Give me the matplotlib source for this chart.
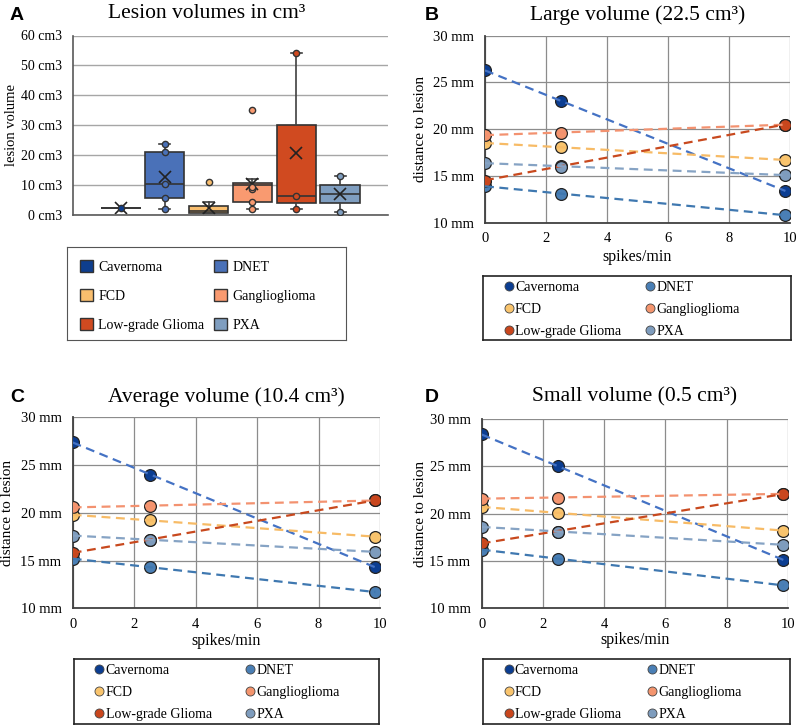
import matplotlib

matplotlib.use("Agg")
import matplotlib.pyplot as plt
import numpy as np
from matplotlib.lines import Line2D
from matplotlib.patches import Patch

# ---- data -------------------------------------------------------------
categories = ["Cavernoma", "DNET", "FCD", "Ganglioglioma", "Low-grade Glioma", "PXA"]

# panel A: box statistics (cm3)
box_q1 = [2.2, 5.8, 0.6, 4.3, 4.1, 4.0]
box_med = [2.2, 10.5, 1.4, 10.0, 6.3, 7.1]
box_q3 = [2.2, 21.2, 3.1, 10.8, 30.0, 9.9]
box_lo = [2.2, 2.1, 0.6, 2.1, 2.1, 1.0]
box_hi = [2.2, 23.7, 4.2, 11.9, 54.0, 12.9]
box_mean = [2.2, 12.6, 2.2, 10.3, 20.8, 7.1]
box_outliers = [[], [], [10.9], [35.2], [], []]
box_inner = [[2.2], [2.1, 5.8, 10.5, 21.2, 23.7], [], [2.1, 4.3, 8.7, 9.5],
             [2.1, 6.3, 54.0], [1.0, 12.9]]

# panels B-D: distance to lesion (mm) at three spike rates
spike_rates = [0.0, 2.5, 9.85]
large_volume = {
    "Cavernoma": [26.3, 23.0, 13.4],
    "DNET": [13.9, 13.1, 10.8],
    "FCD": [18.5, 18.1, 16.7],
    "Ganglioglioma": [19.4, 19.6, 20.5],
    "Low-grade Glioma": [14.5, 16.1, 20.5],
    "PXA": [16.4, 16.0, 15.1],
}
average_volume = {
    "Cavernoma": [27.4, 24.0, 14.3],
    "DNET": [15.2, 14.3, 11.7],
    "FCD": [19.8, 19.2, 17.5],
    "Ganglioglioma": [20.6, 20.7, 21.3],
    "Low-grade Glioma": [15.8, 17.2, 21.3],
    "PXA": [17.6, 17.2, 15.9],
}
small_volume = {
    "Cavernoma": [28.4, 25.0, 15.1],
    "DNET": [16.2, 15.2, 12.4],
    "FCD": [20.7, 20.1, 18.2],
    "Ganglioglioma": [21.6, 21.7, 22.1],
    "Low-grade Glioma": [16.9, 18.1, 22.1],
    "PXA": [18.6, 18.1, 16.7],
}

box_colors = ["#0E3E8E", "#4A71B8", "#F9BE6E", "#F99A70", "#D04A20", "#7F9EC0"]
dot_colors = ["#0B3D91", "#4A7FB5", "#F9C46D", "#F4956E", "#C9461D", "#7E9CBD"]
line_colors = ["#4472C4", "#3F78B0", "#F7BB66", "#F39270", "#C8491E", "#86A3C4"]

plt.rcParams.update({
    "font.family": ["Liberation Serif", "DejaVu Serif"],
    "font.size": 10,
    "axes.unicode_minus": False,
})

W, H = 800, 726
# legend is filled column by column, reference reads row by row
ROW_ORDER = [0, 2, 4, 1, 3, 5]


def fig_rect(x0, y0, x1, y1):
    return [x0 / W, 1 - y1 / H, (x1 - x0) / W, (y1 - y0) / H]


def legend_box(rect):
    lax = fig.add_axes(fig_rect(*rect))
    lax.set_xticks([])
    lax.set_yticks([])
    return lax


fig = plt.figure(figsize=(W / 100, H / 100), dpi=100)

# ---- panel A ----------------------------------------------------------
axA = fig.add_axes(fig_rect(73, 35.5, 388, 215))
positions = np.arange(1, len(categories) + 1)
stats = []
for i, name in enumerate(categories):
    stats.append({
        "label": name, "q1": box_q1[i], "med": box_med[i], "q3": box_q3[i],
        "whislo": box_lo[i], "whishi": box_hi[i], "mean": box_mean[i],
        "fliers": box_outliers[i],
    })
parts = axA.bxp(stats, positions=positions, widths=0.9, capwidths=0.25,
                patch_artist=True, showmeans=True,
                boxprops=dict(edgecolor="#333333", linewidth=1.2),
                medianprops=dict(color="#333333", linewidth=1.2),
                whiskerprops=dict(color="#404040", linewidth=1.2),
                capprops=dict(color="#404040", linewidth=1.2),
                meanprops=dict(marker="x", markeredgecolor="#222222", markersize=9,
                               markeredgewidth=1.2),
                flierprops=dict(marker="o", markersize=4.5, markeredgecolor="#333333"))
for i, box in enumerate(parts["boxes"]):
    box.set_facecolor(box_colors[i])
for i, fl in enumerate(parts["fliers"]):
    fl.set_markerfacecolor(box_colors[i])
for i, pts in enumerate(box_inner):
    if pts:
        axA.plot([positions[i]] * len(pts), pts, "o", markersize=4.5,
                 markerfacecolor=box_colors[i], markeredgecolor="#333333",
                 markeredgewidth=1.0, zorder=4)
axA.set_xlim(-0.09, 7.09)
axA.set_ylim(0, 60)
axA.set_yticks(range(0, 61, 10))
axA.set_yticklabels([f"{v} cm3" for v in range(0, 61, 10)])
axA.set_xticks([])
axA.grid(axis="y", color="#A6A6A6", linewidth=1.0)
axA.set_axisbelow(True)
for side in ("top", "right"):
    axA.spines[side].set_visible(False)
for side in ("left", "bottom"):
    axA.spines[side].set_color("#595959")
    axA.spines[side].set_linewidth(1.2)
axA.tick_params(axis="y", length=0, pad=8, labelsize=10)
axA.set_ylabel("lesion volume", fontsize=10.5)
axA.yaxis.set_label_coords(-0.175, 0.5)

legA = legend_box((67, 247, 346, 340))
for sp in legA.spines.values():
    sp.set_color("#555555")
handlesA = [Patch(facecolor=c, edgecolor="#333333", linewidth=1.0) for c in box_colors]
legA.legend([handlesA[k] for k in ROW_ORDER], [categories[k] for k in ROW_ORDER],
            ncol=2, loc="upper left", bbox_to_anchor=(0.012, 0.96), borderaxespad=0,
            frameon=False, fontsize=10, handlelength=0.9, handleheight=0.9,
            handletextpad=0.4, labelspacing=1.1, columnspacing=0.72, borderpad=0.7)

fig.text(17 / W, 1 - 15 / H, "A", family="Liberation Sans", weight="bold", fontsize=14,
         ha="center", va="center")
fig.text(207 / W, 1 - 13 / H, "Lesion volumes in cm³", fontsize=15.5, ha="center", va="center")

# ---- panels B-D -------------------------------------------------------
panels = [
    # letter, title, data, axes rect, legend rect, title y, letter x,
    # ylabel x, xlabel y, legend anchor x, column spacing
    ("B", "Large volume (22.5 cm³)", large_volume, (485, 35.7, 790, 222.7),
     (483, 276, 791, 340), 15, 432, -0.19, -0.14, 0.054, 1.75),
    ("C", "Average volume (10.4 cm³)", average_volume, (72.7, 417.3, 380, 608.3),
     (74, 659, 379, 724), 397, 17, -0.191, -0.128, 0.054, 2.4),
    ("D", "Small volume (0.5 cm³)", small_volume, (481.7, 419.3, 788, 608),
     (483, 659, 790, 724), 397, 432, -0.179, -0.128, 0.054, 1.9),
]

for (letter, title, values, rect, leg_rect, title_y, letter_x,
     ylab_x, xlab_y, leg_x, colsp) in panels:
    ax = fig.add_axes(fig_rect(*rect))
    xs = np.array(spike_rates)
    for i, name in enumerate(categories):
        ys = np.array(values[name])
        ax.plot(xs, ys, "o", markersize=8.5, markerfacecolor=dot_colors[i],
                markeredgecolor="#222222", markeredgewidth=0.9, zorder=3 + i * 0.01)
    for i, name in enumerate(categories):
        ys = np.array(values[name])
        slope, icpt = np.polyfit(xs, ys, 1)
        fx = np.array([xs.min(), xs.max()])
        ax.plot(fx, icpt + slope * fx, "--", color=line_colors[i], linewidth=1.6,
                dashes=(4, 2.5), zorder=4)
    ax.set_xlim(0, 10)
    ax.set_ylim(10, 30)
    ax.set_xticks(range(0, 11, 2))
    ax.set_yticks(range(10, 31, 5))
    ax.set_yticklabels([f"{v} mm" for v in range(10, 31, 5)])
    ax.grid(True, color="#8C8C8C", linewidth=0.9)
    ax.set_axisbelow(True)
    for side in ("top", "right"):
        ax.spines[side].set_visible(False)
    for side in ("left", "bottom"):
        ax.spines[side].set_color("#404040")
        ax.spines[side].set_linewidth(1.3)
    ax.tick_params(length=0, pad=8, labelsize=10.5)
    ax.tick_params(axis="x", pad=7)
    ax.set_ylabel("distance to lesion", fontsize=11)
    ax.yaxis.set_label_coords(ylab_x, 0.5)
    ax.set_xlabel("spikes/min", fontsize=11.5)
    ax.xaxis.set_label_coords(0.5, xlab_y)

    cx = (rect[0] + rect[2]) / 2
    fig.text(cx / W, 1 - title_y / H, title, fontsize=15.5, ha="center", va="center")
    fig.text(letter_x / W, 1 - title_y / H, letter, family="Liberation Sans",
             weight="bold", fontsize=14, ha="center", va="center")

    lax = legend_box(leg_rect)
    for sp in lax.spines.values():
        sp.set_color("#222222")
        sp.set_linewidth(1.2)
    handles = [Line2D([], [], linestyle="none", marker="o", markersize=6.5,
                      markerfacecolor=c, markeredgecolor="#444444", markeredgewidth=0.6)
               for c in dot_colors]
    lax.legend([handles[k] for k in ROW_ORDER], [categories[k] for k in ROW_ORDER],
               ncol=2, loc="upper left", bbox_to_anchor=(leg_x, 0.99), borderaxespad=0,
               frameon=False, fontsize=10, handlelength=0.7, handletextpad=0.1,
               labelspacing=0.66, columnspacing=colsp, borderpad=0.3)

fig.savefig("out.png", dpi=100, facecolor="white")
